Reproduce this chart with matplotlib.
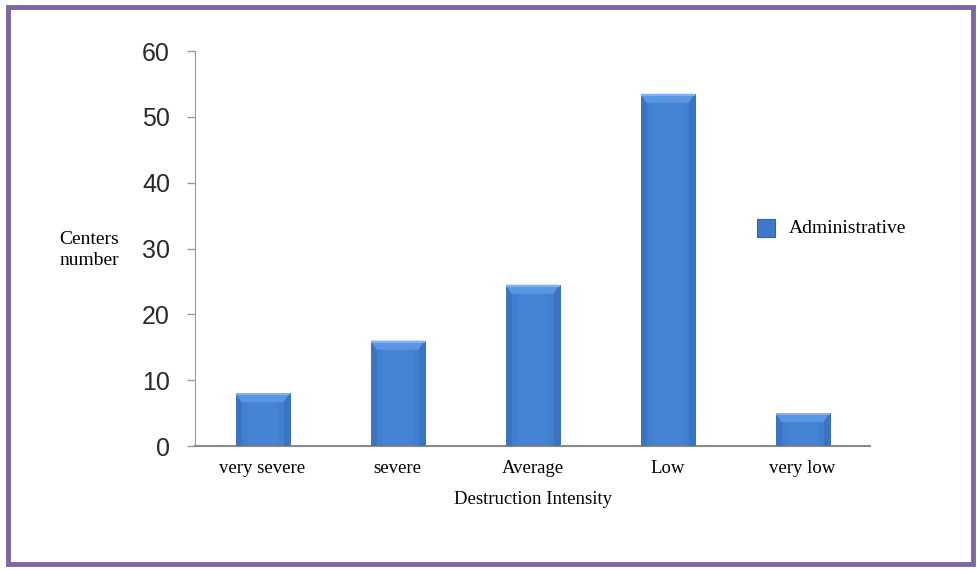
import numpy as np
import matplotlib
matplotlib.use('Agg')
import matplotlib.pyplot as plt
from matplotlib.patches import Polygon, Rectangle

categories = ['very severe', 'severe', 'Average', 'Low', 'very low']
centers = [8, 16, 24.5, 53.5, 5]
series_name = 'Administrative'

fig = plt.figure(figsize=(9.77, 5.70), dpi=100)
ax = fig.add_axes([0.1996, 0.2175, 0.6909, 0.693])

x = np.arange(len(categories))
bars = ax.bar(x, centers, width=0.4, color='#3D7ACB', edgecolor='#2F64AA', linewidth=0.6, zorder=2)

ax.set_xlim(-0.5, len(categories) - 0.5)
ax.set_ylim(0, 60)
ax.set_yticks(range(0, 61, 10))
ax.set_xticks(x)
ax.set_xticklabels(categories, family='Liberation Serif', fontsize=13.5)
ax.tick_params(axis='x', length=0, pad=10)
ax.tick_params(axis='y', labelsize=18, length=6, width=1, direction='out', pad=12, color='#9a9a9a')
for lab in ax.get_yticklabels():
    lab.set_family('Liberation Sans')
    lab.set_color('#2a2a2a')

for side in ['top', 'right']:
    ax.spines[side].set_visible(False)
ax.spines['left'].set_color('#9a9a9a')
ax.spines['bottom'].set_color('#8a8a8a')
ax.spines['bottom'].set_linewidth(1.5)

# bevel look: lighter top cap and softer side strips
fig.canvas.draw()
inv = ax.transData.inverted()
px = abs(inv.transform((0, 0))[1] - inv.transform((0, 1))[1])
pxx = abs(inv.transform((1, 0))[0] - inv.transform((0, 0))[0])
for b in bars:
    x0, w, h = b.get_x(), b.get_width(), b.get_height()
    cap = 9 * px
    sw = 6 * pxx
    ax.add_patch(Rectangle((x0, 0), w, h, color='#3B74C2', lw=0, zorder=3))
    ax.add_patch(Rectangle((x0 + sw, 0), w - 2 * sw, h, color='#417FCF', lw=0, zorder=3))
    ax.add_patch(Rectangle((x0 + 2 * sw, 0), w - 4 * sw, h, color='#4584D4', lw=0, zorder=3))
    ax.add_patch(Polygon([(x0, h), (x0 + w, h), (x0 + w - sw, h - cap), (x0 + sw, h - cap)],
                         closed=True, color='#5A96E2', lw=0, zorder=4))
    ax.add_patch(Rectangle((x0, h - 2 * px), w, 2 * px, color='#7FB2F0', lw=0, zorder=5))

ax.set_xlabel('Destruction Intensity', family='Liberation Serif', fontsize=13.5, labelpad=10)
fig.text(0.061, 0.562, 'Centers\nnumber', family='Liberation Serif', fontsize=14,
         ha='left', va='center', linespacing=1.3, multialignment='left')

# legend
fig.patches.append(Rectangle((0.775, 0.585), 0.018, 0.03, transform=fig.transFigure,
                             facecolor='#3D7ACB', edgecolor='#2F64AA', lw=0.8))
fig.text(0.807, 0.599, series_name, family='Liberation Serif', fontsize=14, va='center')

# purple frame
fig.patches.append(Rectangle((0.008, 0.01), 0.988, 0.978, transform=fig.transFigure,
                             fill=False, edgecolor='#8064A2', lw=3.5))

fig.savefig('out.png', dpi=100)
